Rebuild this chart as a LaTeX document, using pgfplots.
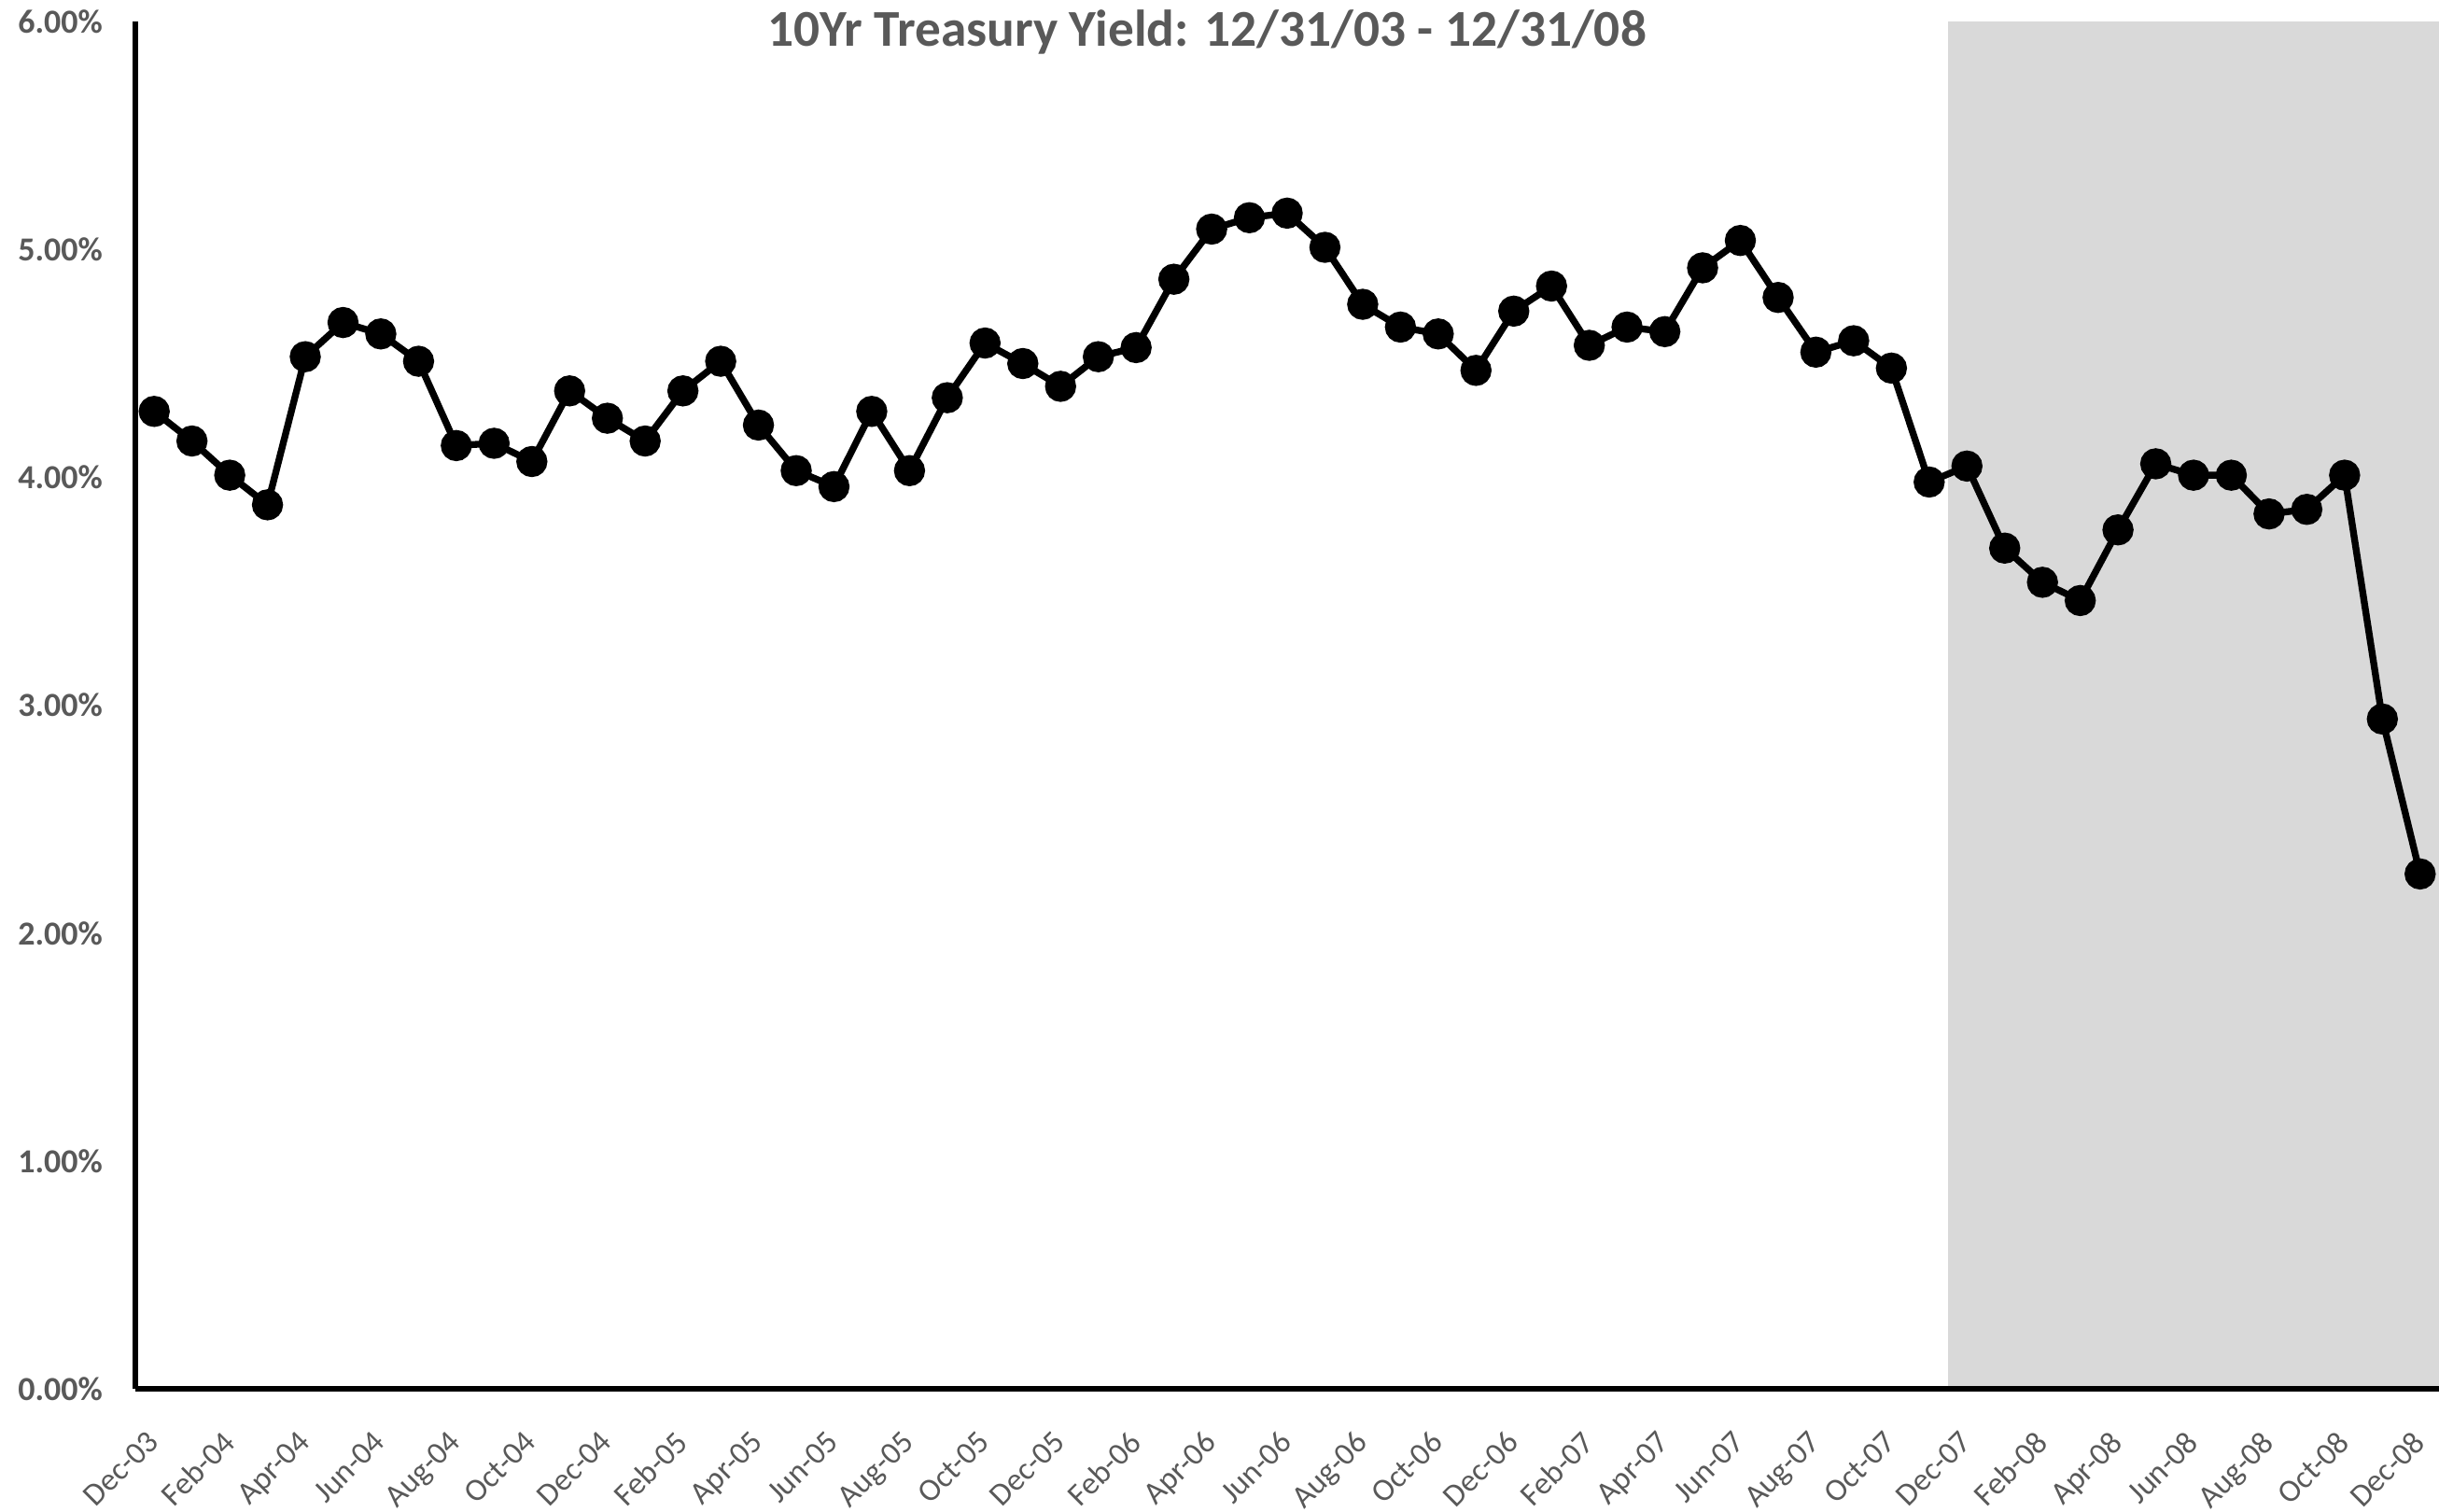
\documentclass[border=0pt]{standalone}
\usepackage{fontspec}
\setmainfont{Carlito}
\usepackage{pgfplots}
\pgfplotsset{compat=1.18}

\definecolor{txtgray}{HTML}{595959}
\definecolor{shade}{HTML}{D9D9D9}

% 10yr yield, month-end, Dec-03 .. Dec-08 (x = month index)
\pgfplotstableread{
x y
0 4.29
1 4.16
2 4.01
3 3.88
4 4.53
5 4.68
6 4.63
7 4.51
8 4.14
9 4.15
10 4.07
11 4.38
12 4.26
13 4.16
14 4.38
15 4.51
16 4.23
17 4.03
18 3.96
19 4.29
20 4.03
21 4.35
22 4.59
23 4.50
24 4.40
25 4.53
26 4.57
27 4.87
28 5.09
29 5.14
30 5.16
31 5.01
32 4.76
33 4.66
34 4.63
35 4.47
36 4.73
37 4.84
38 4.58
39 4.66
40 4.64
41 4.92
42 5.04
43 4.79
44 4.55
45 4.60
46 4.48
47 3.98
48 4.05
49 3.69
50 3.54
51 3.46
52 3.77
53 4.06
54 4.01
55 4.01
56 3.84
57 3.86
58 4.01
59 2.94
60 2.26
}\yields

\begin{document}
\begin{tikzpicture}
\useasboundingbox (-43.5pt,-39.5pt) rectangle (740.5pt,446.5pt);
\begin{axis}[
    scale only axis,
    width=740.5pt,
    height=439.5pt,
    xmin=-0.5, xmax=60.5,
    ymin=0, ymax=6,
    axis lines*=left,
    axis line style={line width=1.6pt, -},
    axis on top,
    ytick={0,1,2,3,4,5,6},
    xtick={0,2,...,60},
    xticklabels={Dec-03,Feb-04,Apr-04,Jun-04,Aug-04,Oct-04,Dec-04,Feb-05,Apr-05,Jun-05,Aug-05,Oct-05,Dec-05,Feb-06,Apr-06,Jun-06,Aug-06,Oct-06,Dec-06,Feb-07,Apr-07,Jun-07,Aug-07,Oct-07,Dec-07,Feb-08,Apr-08,Jun-08,Aug-08,Oct-08,Dec-08},
    major tick length=0pt,
    /pgf/number format/assume math mode=true,
    yticklabel={\pgfmathprintnumber[fixed,fixed zerofill,precision=2]{\tick}\%},
    yticklabel style={font=\fontsize{10.8}{12}\selectfont\bfseries, text=txtgray, xshift=-7pt},
    % shifts act in the rotated frame
    xticklabel style={font=\fontsize{10.2}{12}\selectfont, text=txtgray, rotate=45, anchor=north east, inner sep=0pt, xshift=-11pt, yshift=-7pt},
    clip=false,
]
\addplot[fill=shade, draw=none] coordinates {(47.5,6) (60.5,6)} \closedcycle;
\addplot[black, line width=2.2pt, mark=*, mark size=3.9pt] table {\yields};
\node[anchor=base, font=\fontsize{16.6}{20}\selectfont\bfseries, text=txtgray] at (rel axis cs:0.4652,1) [yshift=-8pt] {10Yr Treasury Yield: 12/31/03 - 12/31/08};
\end{axis}
\end{tikzpicture}
\end{document}
